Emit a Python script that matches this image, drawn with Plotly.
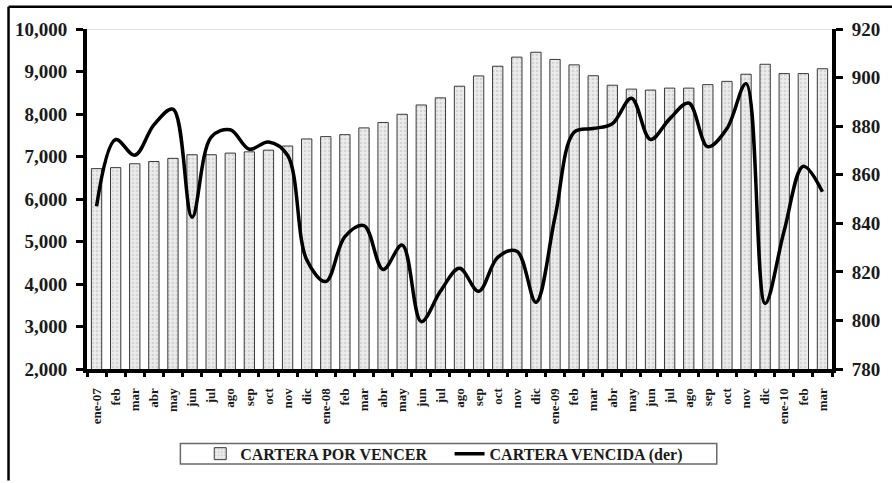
import plotly.graph_objects as go

months = ["ene-07", "feb", "mar", "abr", "may", "jun", "jul", "ago", "sep", "oct", "nov", "dic",
          "ene-08", "feb", "mar", "abr", "may", "jun", "jul", "ago", "sep", "oct", "nov", "dic",
          "ene-09", "feb", "mar", "abr", "may", "jun", "jul", "ago", "sep", "oct", "nov", "dic",
          "ene-10", "feb", "mar"]

por_vencer = [6715, 6738, 6829, 6882, 6957, 7042, 7042, 7080, 7110, 7149, 7247, 7413,
              7468, 7514, 7673, 7801, 7993, 8212, 8380, 8654, 8896, 9124, 9338, 9453,
              9284, 9156, 8900, 8677, 8586, 8563, 8609, 8609, 8691, 8768, 8935, 9170,
              8951, 8951, 9065]

vencida = [847, 874.5, 868, 880.5, 887, 842.5, 875.5, 878.5, 870.5, 873.5, 868, 825,
           816, 834.5, 839, 821, 831, 799.5, 812, 821.5, 812, 826, 828.5, 807.5,
           842.5, 877.5, 879, 881, 891.5, 874.5, 883, 889.5, 871.5, 879, 897.5, 807,
           837, 863.5, 853]

left_ticks = list(range(2000, 10001, 1000))
right_ticks = list(range(780, 921, 20))

x = list(range(len(months)))
FONT = "Liberation Serif"
INK = "#1a1a1a"

fig = go.Figure()
fig.add_trace(go.Bar(
    x=x, y=por_vencer, name="CARTERA POR VENCER", width=0.54,
    marker=dict(color="#e3e3e3", line=dict(color="#3a3a3a", width=1),
                pattern=dict(shape=".", fgcolor="#bcbcbc", bgcolor="#ececec", size=4, solidity=0.35)),
    legend="legend", showlegend=True,
))
fig.add_trace(go.Scatter(
    x=x, y=vencida, name="CARTERA VENCIDA (der)", mode="lines", yaxis="y2",
    line=dict(color="black", width=3.5, shape="spline", smoothing=1.0),
    legend="legend2", showlegend=True,
))

W, H = 892, 483
L, R, T, B = 87, 55, 29, 103
pw, ph = W - L - R, H - T - B

def px_x(s):  # pixel x -> paper
    return (s - L) / pw

def px_y(s):  # pixel y -> paper
    return (H - B - s) / ph

tfont = lambda s: dict(size=s, family=FONT, color=INK, weight="bold")

fig.update_layout(
    width=W, height=H,
    margin=dict(l=L, r=R, t=T, b=B),
    paper_bgcolor="white", plot_bgcolor="white",
    font=tfont(14),
    hovermode=False,
    xaxis=dict(
        range=[-0.5, len(months) - 0.5],
        tickmode="array", tickvals=x, ticktext=months,
        tickangle=-90, ticks="", ticklabelstandoff=10,
        tickfont=tfont(13),
        showline=True, linecolor="black", linewidth=4,
        showgrid=False, zeroline=False,
        minor=dict(tickmode="array", tickvals=[i - 0.5 for i in range(len(months) + 1)],
                   ticks="outside", ticklen=4, tickwidth=3, tickcolor="black"),
    ),
    yaxis=dict(
        range=[2000, 10000], tickmode="array", tickvals=left_ticks,
        tickformat=",d", ticks="outside", ticklen=7, tickwidth=3, tickcolor="black",
        tickfont=tfont(19),
        showline=True, linecolor="black", linewidth=4,
        showgrid=False, zeroline=False, ticklabelstandoff=5,
    ),
    yaxis2=dict(
        range=[780, 920], tickmode="array", tickvals=right_ticks,
        overlaying="y", side="right",
        ticks="outside", ticklen=7, tickwidth=3, tickcolor="black",
        tickfont=tfont(19),
        showline=True, linecolor="black", linewidth=4,
        showgrid=False, zeroline=False, ticklabelstandoff=5,
    ),
    legend=dict(
        x=px_x(201), xanchor="left", y=px_y(467.5), yanchor="middle",
        orientation="h", bgcolor="rgba(0,0,0,0)", borderwidth=0,
        font=tfont(16),
    ),
    legend2=dict(
        x=px_x(452), xanchor="left", y=px_y(467.5), yanchor="middle",
        orientation="h", bgcolor="rgba(0,0,0,0)", borderwidth=0,
        font=tfont(16),
    ),
    shapes=[
        dict(type="line", xref="paper", yref="y", x0=0, x1=1, y0=10000, y1=10000,
             line=dict(color="#d4d4d4", width=1.5), layer="below"),
        dict(type="line", xref="paper", yref="paper", x0=px_x(8), x1=px_x(900),
             y0=px_y(6), y1=px_y(6), line=dict(color="black", width=2.5)),
        dict(type="line", xref="paper", yref="paper", x0=px_x(8), x1=px_x(8),
             y0=px_y(6), y1=px_y(495), line=dict(color="black", width=2.5)),
        dict(type="rect", xref="paper", yref="paper", x0=px_x(181), x1=px_x(721),
             y0=px_y(457), y1=px_y(478), line=dict(color="#6a6a6a", width=1.5),
             fillcolor="rgba(0,0,0,0)"),
    ],
)

# remove the default page margin so the figure fills the 892x483 window exactly
fig.write_html("out.html",
               config={"displayModeBar": False},
               post_script="document.body.style.margin='0';document.body.style.overflow='hidden';")
